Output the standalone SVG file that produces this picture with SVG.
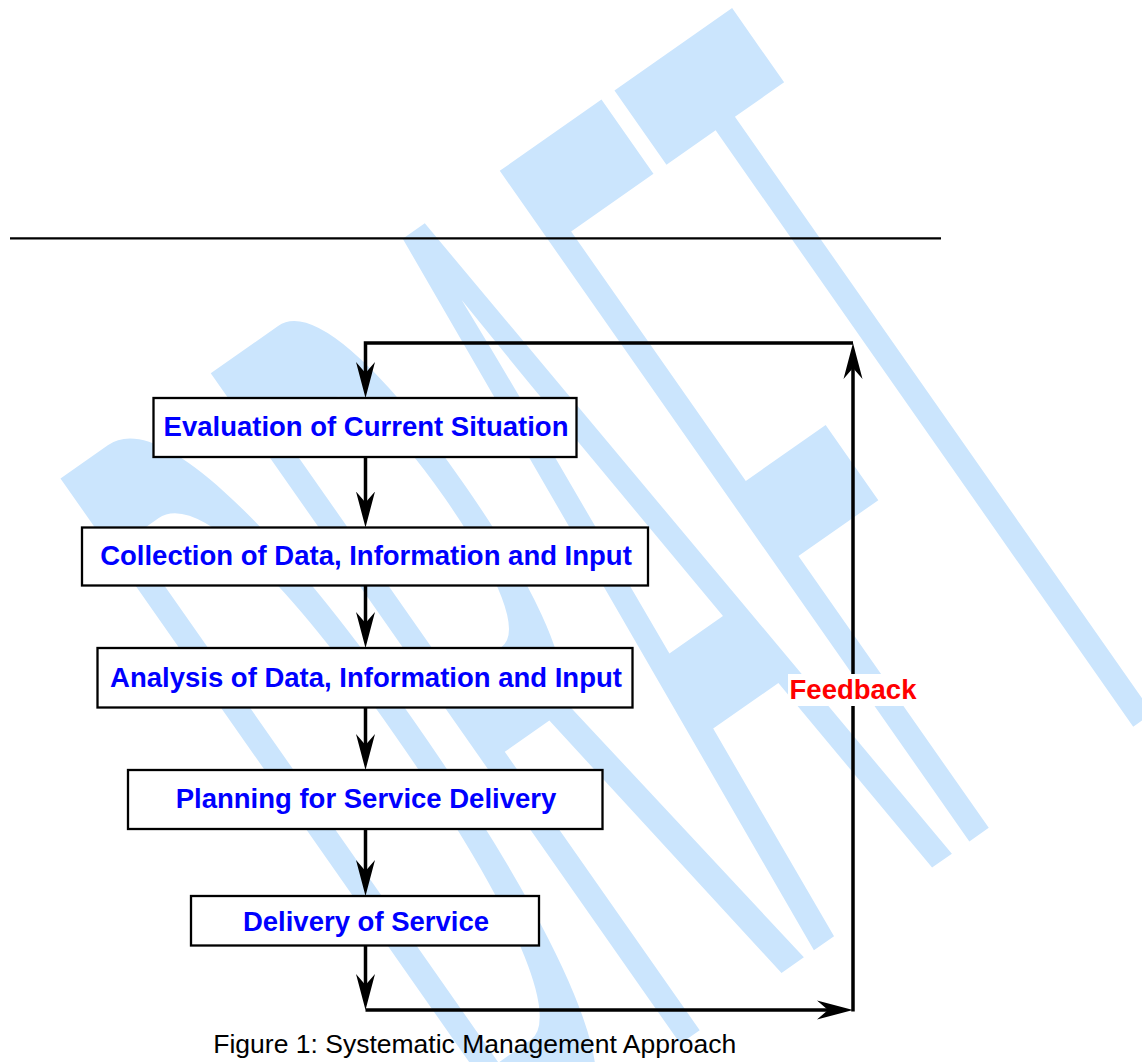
<svg xmlns="http://www.w3.org/2000/svg" width="1142" height="1062" viewBox="0 0 1142 1062">
<style>
.box{fill:#fff;stroke:#000;stroke-width:2.3}
.lbl{font-family:"Liberation Sans",Arial,sans-serif;font-weight:bold;font-size:27.5px;fill:#0000ff;text-anchor:middle}
.con{fill:none;stroke:#000;stroke-width:3.5}
.wm{font-family:"Liberation Sans",Arial,sans-serif;font-size:1000px;fill:#cbe5fd}
</style>
<defs>
<marker id="ah" markerUnits="userSpaceOnUse" markerWidth="40" markerHeight="24" viewBox="0 -12 40 24" refX="24" refY="0" orient="auto">
<path d="M36,0 L0,-9.5 L11,0 L0,9.5 Z" fill="#000"/>
</marker>
</defs>
<rect width="1142" height="1062" fill="#fff"/>
<g id="watermark">
<text class="wm" transform="translate(513,1161) rotate(-35) scale(0.254,1.19)" x="0" y="0">DRAFT</text>
</g>
<line x1="10" y1="238.3" x2="941" y2="238.3" stroke="#000" stroke-width="2.3"/>
<g id="connectors">
<path class="con" d="M853,343 H365.5 V386" marker-end="url(#ah)"/>
<path class="con" d="M365.5,457 V515.5" marker-end="url(#ah)"/>
<path class="con" d="M365.5,586 V636" marker-end="url(#ah)"/>
<path class="con" d="M365.5,707 V758" marker-end="url(#ah)"/>
<path class="con" d="M365.5,829 V884" marker-end="url(#ah)"/>
<path class="con" d="M365.5,945 V998" marker-end="url(#ah)"/>
<path class="con" d="M365.5,1010 H841" marker-end="url(#ah)"/>
<path class="con" d="M853,1011.5 V355" marker-end="url(#ah)"/>
</g>
<g id="feedback">
<rect x="788" y="674" width="129" height="32" fill="#fff"/>
<text class="lbl" x="853" y="699" style="fill:#ff0000">Feedback</text>
</g>
<g id="n1">
<rect class="box" x="153.5" y="398" width="423" height="59"/>
<text class="lbl" x="366" y="436">Evaluation of Current Situation</text>
</g>
<g id="n2">
<rect class="box" x="82" y="527.5" width="566" height="58"/>
<text class="lbl" x="366" y="565">Collection of Data, Information and Input</text>
</g>
<g id="n3">
<rect class="box" x="97.5" y="648" width="535" height="59.5"/>
<text class="lbl" x="366" y="686.7">Analysis of Data, Information and Input</text>
</g>
<g id="n4">
<rect class="box" x="128" y="770" width="474.5" height="59"/>
<text class="lbl" x="366" y="808.3">Planning for Service Delivery</text>
</g>
<g id="n5">
<rect class="box" x="191" y="896" width="348" height="49.5"/>
<text class="lbl" x="366" y="930.7">Delivery of Service</text>
</g>
<text x="213.3" y="1052.7" font-family="'Liberation Sans',Arial,sans-serif" font-size="26.5" fill="#000">Figure 1: Systematic Management Approach</text>
</svg>
